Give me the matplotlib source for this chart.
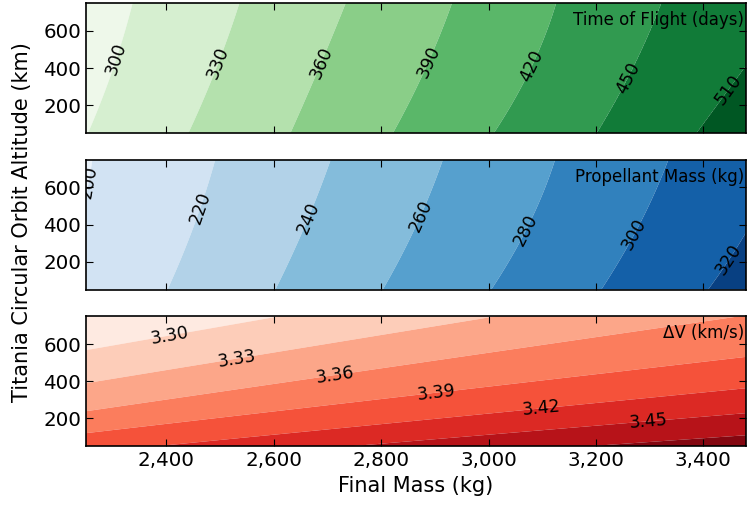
import numpy as np
import matplotlib
matplotlib.use('Agg')
import matplotlib.pyplot as plt
from matplotlib.ticker import FuncFormatter

# values
# altitudes (km) at which the contour crossings were read
read_alt = [50, 400, 750]

# time of flight (days): x position (final mass, kg) of each contour at read_alt
tof_levels = [270, 300, 330, 360, 390, 420, 450, 510, 540]
tof_x_50 = [2065, 2254, 2441, 2631, 2822, 3010, 3202, 3387, 3600]
tof_x_400 = [2110, 2301, 2493, 2684, 2883, 3079, 3269, 3476, 3700]
tof_x_750 = [2140, 2337, 2536, 2734, 2932, 3126, 3322, 3564, 3800]
tof_labels = [300, 330, 360, 390, 420, 450, 510]

# propellant mass (kg)
prop_levels = [180, 200, 220, 240, 260, 280, 300, 320, 340]
prop_x_50 = [1990, 2200, 2402, 2603, 2803, 3005, 3210, 3409, 3610]
prop_x_400 = [2030, 2238, 2452, 2659, 2866, 3075, 3281, 3488, 3700]
prop_x_750 = [2050, 2262, 2491, 2706, 2915, 3124, 3335, 3546, 3760]
prop_labels = [200, 220, 240, 260, 280, 300, 320]

# delta-V (km/s): altitude of each contour at the left / right edge
dv_levels = [3.27, 3.30, 3.33, 3.36, 3.39, 3.42, 3.45, 3.48, 3.51]
dv_alt_left = [750, 567, 389, 238, 120, 12, -70, -140, -220]
dv_alt_right = [1420, 1190, 970, 755, 531, 362, 228, 109, 0]
dv_labels = [3.30, 3.33, 3.36, 3.39, 3.42, 3.45]

x_min, x_max = 2250, 3480
y_min, y_max = 50, 750

# label positions (data coords)
tof_label_pos = [(2305, 454), (2497, 427), (2687, 432), (2888, 432), (3083, 405), (3260, 346), (3443, 292)]
prop_label_pos = [(2262, 626), (2463, 492), (2665, 438), (2874, 448), (3070, 368), (3271, 352), (3440, 225)]
dv_label_pos = [(2407, 648), (2532, 524), (2715, 432), (2902, 341), (3098, 260), (3297, 190)]

xg = np.linspace(x_min, x_max, 400)
yg = np.linspace(y_min, y_max, 250)
X, Y = np.meshgrid(xg, yg)


def field_from_x_crossings(levels, x50, x400, x750):
    # contour x position as a smooth function of altitude, then fill between
    xc = np.array([np.polyval(np.polyfit(read_alt, [a, b, c], 2), yg)
                   for a, b, c in zip(x50, x400, x750)])
    Z = np.empty_like(X)
    for i in range(len(yg)):
        Z[i, :] = np.interp(xg, xc[:, i], levels)
    return Z


def field_from_alt_crossings(levels, alt_left, alt_right):
    t = (xg - x_min) / (x_max - x_min)
    ac = np.array([l + (r - l) * t for l, r in zip(alt_left, alt_right)])
    Z = np.empty_like(X)
    for j in range(len(xg)):
        Z[:, j] = np.interp(yg, ac[::-1, j], levels[::-1])
    return Z


Z_tof = field_from_x_crossings(tof_levels, tof_x_50, tof_x_400, tof_x_750)
Z_prop = field_from_x_crossings(prop_levels, prop_x_50, prop_x_400, prop_x_750)
Z_dv = field_from_alt_crossings(dv_levels, dv_alt_left, dv_alt_right)

fig, axes = plt.subplots(3, 1, figsize=(7.47, 5.07), dpi=100, sharex=True)
fig.subplots_adjust(left=0.115, right=0.999, bottom=0.12, top=0.994, hspace=0.205)

panels = [
    (Z_tof, tof_levels, tof_labels, tof_label_pos, 'Greens', '%d', 'Time of Flight (days)'),
    (Z_prop, prop_levels, prop_labels, prop_label_pos, 'Blues', '%d', 'Propellant Mass (kg)'),
    (Z_dv, dv_levels, dv_labels, dv_label_pos, 'Reds', '%.2f', '\u0394V (km/s)'),
]

for ax, (Z, levels, lab_levels, lab_pos, cmap, fmt, title) in zip(axes, panels):
    n = len(levels) - 1
    colors = plt.get_cmap(cmap)(np.linspace(0.5 / n, 1 - 0.5 / n, n))
    ax.contourf(X, Y, Z, levels=levels, colors=colors, antialiased=True)
    cs = ax.contour(X, Y, Z, levels=lab_levels, colors='k', linewidths=0)
    ax.clabel(cs, fmt=fmt, manual=lab_pos, inline=True, fontsize=12.5, colors='k')
    ax.text(0.997, 0.87, title, transform=ax.transAxes, ha='right', va='center', fontsize=12)
    ax.set_xlim(x_min, x_max)
    ax.set_ylim(y_min, y_max)
    ax.set_yticks([200, 400, 600])
    ax.tick_params(direction='in', top=True, right=True, length=5, labelsize=14.3)
    for s in ax.spines.values():
        s.set_linewidth(1.2)

axes[-1].set_xticks([2400, 2600, 2800, 3000, 3200, 3400])
axes[-1].xaxis.set_major_formatter(FuncFormatter(lambda v, p: '{:,.0f}'.format(v)))
axes[-1].set_xlabel('Final Mass (kg)', fontsize=15)
fig.text(0.029, 0.562, 'Titania Circular Orbit Altitude (km)', rotation=90,
         ha='center', va='center', fontsize=15)

fig.savefig('out.png', dpi=100)
